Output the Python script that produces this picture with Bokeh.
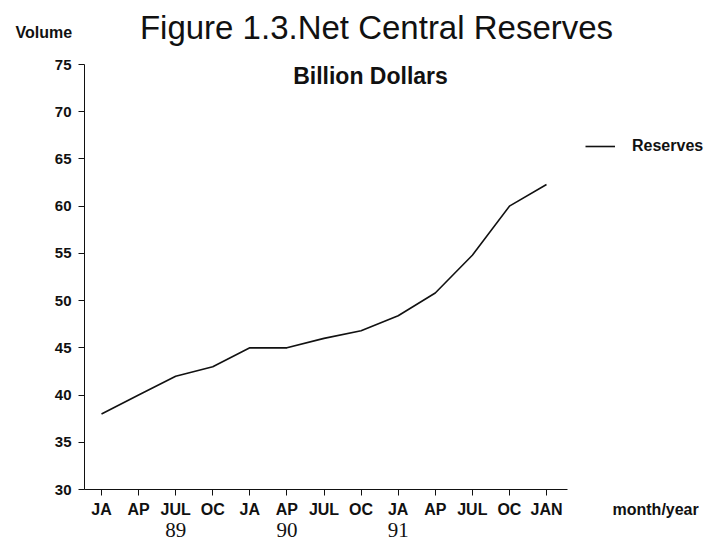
from bokeh.plotting import figure
from bokeh.models import Range1d, FixedTicker, Label, Legend, LegendItem
from bokeh.embed import file_html
from bokeh.resources import INLINE

# ---- data ----
month_labels = ["JA", "AP", "JUL", "OC", "JA", "AP", "JUL", "OC", "JA", "AP", "JUL", "OC", "JAN"]
reserves = [38.0, 40.0, 42.0, 43.0, 45.0, 45.0, 46.0, 46.8, 48.4, 50.8, 54.8, 60.0, 62.3]
year_labels = ["89", "90", "91"]
year_positions = [2, 5, 8]
y_ticks = [30, 35, 40, 45, 50, 55, 60, 65, 70, 75]
x_index = list(range(len(month_labels)))

SANS = "Liberation Sans"
SERIF = "Liberation Serif"
INK = "#111111"

W, H = 704, 540
# page-pixel geometry of the reference plot area
X0_PX, X12_PX = 101, 546      # pixel of first / last month tick
Y75_PX, Y30_PX = 64, 489      # pixel of y = 75 / y = 30
AX_LEFT_PX, AX_RIGHT_PX = 84, 567

xs = (X12_PX - X0_PX) / 12.0
ys = (Y30_PX - Y75_PX) / 45.0
def px_to_x(px):
    return (px - X0_PX) / xs
def px_to_y(py):
    return 30 + (Y30_PX - py) / ys

p = figure(width=W, height=H,
           x_range=Range1d(px_to_x(0), px_to_x(W)),
           y_range=Range1d(px_to_y(H), px_to_y(0)),
           min_border=0, min_border_left=0, min_border_right=0,
           min_border_top=0, min_border_bottom=0,
           toolbar_location=None, output_backend="svg")
p.outline_line_color = None
p.xgrid.visible = False
p.ygrid.visible = False
p.background_fill_color = "white"
p.border_fill_color = "white"

line = p.line(x_index, reserves, line_color=INK, line_width=1.6)

x_left = px_to_x(AX_LEFT_PX)
x_right = px_to_x(AX_RIGHT_PX)

# axes
xa = p.xaxis[0]
xa.fixed_location = 30
xa.bounds = (x_left, x_right)
xa.ticker = FixedTicker(ticks=x_index)
xa.major_label_overrides = {i: lab for i, lab in zip(x_index, month_labels)}
xa.minor_tick_line_color = None
xa.major_tick_in = 0
xa.major_tick_out = 6
xa.major_label_standoff = 5
xa.major_label_text_font = SANS
xa.major_label_text_font_style = "bold"
xa.major_label_text_font_size = "16px"
xa.major_label_text_color = INK
xa.axis_line_color = INK
xa.major_tick_line_color = INK

ya = p.yaxis[0]
ya.fixed_location = x_left
ya.bounds = (30, 75)
ya.ticker = FixedTicker(ticks=y_ticks)
ya.minor_tick_line_color = None
ya.major_tick_in = 0
ya.major_tick_out = 6
ya.major_label_standoff = 7
ya.major_label_text_font = SANS
ya.major_label_text_font_style = "bold"
ya.major_label_text_font_size = "15px"
ya.major_label_text_color = INK
ya.axis_line_color = INK
ya.major_tick_line_color = INK


def add_text(text, X, Y, size, style="normal", font=SANS, align="center"):
    p.add_layout(Label(x=X, y=H - Y, x_units="screen", y_units="screen",
                       text=text, text_font=font, text_font_size=size,
                       text_font_style=style, text_align=align,
                       text_baseline="middle", text_color=INK))


add_text("Figure 1.3.Net Central Reserves", 376, 27, "33px")
add_text("Billion Dollars", 370, 75, "23px", style="bold")
add_text("Volume", 15, 32, "16px", style="bold", align="left")
add_text("month/year", 612, 509, "16px", style="bold", align="left")

for lab, pos in zip(year_labels, year_positions):
    p.add_layout(Label(x=pos, y=H - 529, x_units="data", y_units="screen",
                       text=lab, text_font=SERIF, text_font_size="21px",
                       text_align="center", text_baseline="middle", text_color=INK))

legend = Legend(items=[LegendItem(label="Reserves", renderers=[line])],
                location=(585, H - 155),
                padding=0, margin=0, spacing=0,
                glyph_width=30, glyph_height=16, label_height=16,
                label_standoff=17,
                label_text_font=SANS, label_text_font_style="bold",
                label_text_font_size="16px", label_text_color=INK,
                border_line_color=None, background_fill_alpha=0)
p.add_layout(legend, "center")

open("out.html", "w").write(file_html(p, INLINE))
